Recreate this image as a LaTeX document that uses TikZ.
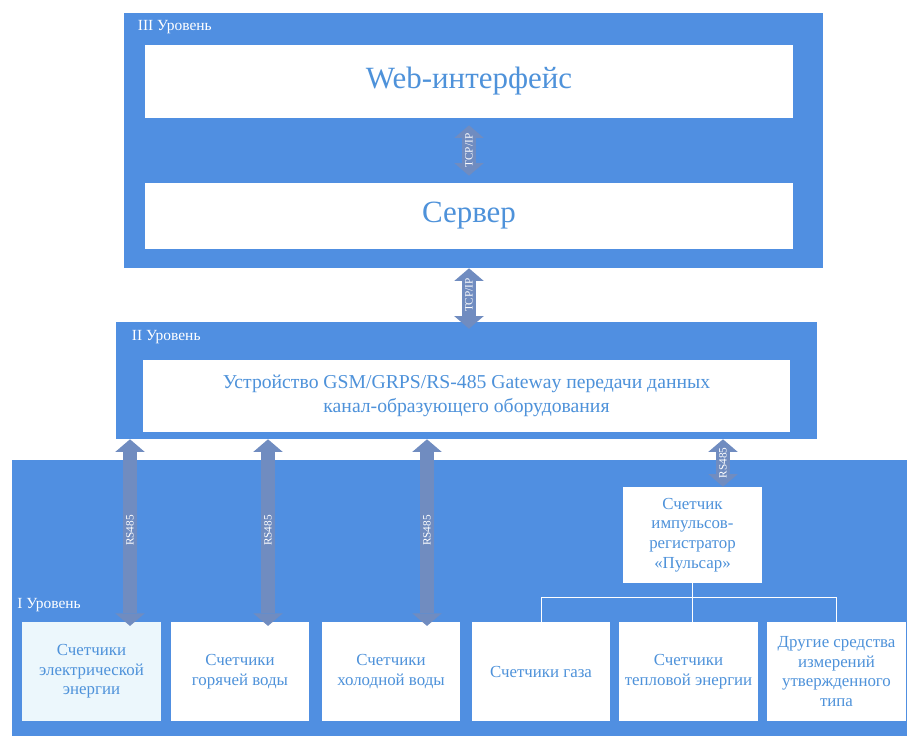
\documentclass[tikz,border=0pt]{standalone}
\usepackage{fontspec}
\setmainfont{Liberation Serif}
\usetikzlibrary{arrows.meta,calc}
\definecolor{panelblue}{RGB}{80,143,225}
\definecolor{textblue}{RGB}{78,146,218}
\definecolor{busblue}{RGB}{112,140,192}
\definecolor{paleblue}{RGB}{236,247,252}

\begin{document}
\begin{tikzpicture}
      [x = 0.025cm, y = -0.025cm,
      panel/.style = {
         fill = panelblue,
         inner sep = 0pt
      },
      box/.style = {
         fill = white,
         text = textblue,
         inner sep = 2pt,
         align = center
      },
      meter/.style = {
         box,
         minimum width = 3.45cm,
         minimum height = 2.475cm,
         font = \fontsize{12}{14}\selectfont
      },
      level/.style = {
         text = white,
         inner sep = 0pt,
         font = \fontsize{11}{13}\selectfont
      },
      bus/.style = {
         busblue,
         line width = 10.5pt,
         {Triangle[width = 21pt, length = 9pt, line width = 0pt]}-{Triangle[width = 21pt, length = 9pt, line width = 0pt]}
      },
      buslabel/.style = {
         text = white,
         rotate = 90,
         inner sep = 0pt,
         font = \fontsize{8}{8}\selectfont
      },
      tree/.style = {white, line width = 0.7pt}]

      \useasboundingbox (0, 0) rectangle (907, 736);

      % levels
      \node[panel, minimum width = 17.475cm, minimum height = 6.375cm] (lvlIII) at (473.5, 140.5) {};
      \node[panel, minimum width = 17.525cm, minimum height = 2.925cm] (lvlII) at (466.5, 380.5) {};
      \node[panel, minimum width = 22.375cm, minimum height = 6.9cm] (lvlI) at (459.5, 598) {};

      \node[level, anchor = north west] (nameIII) at ($(lvlIII.north west) + (14, 7)$) {III Уровень};
      \node[level, anchor = north west] (nameII) at ($(lvlII.north west) + (16, 8)$) {II Уровень};
      \node[level, anchor = south west] (nameI) at (17, 612) {I Уровень};

      % level III
      \node[box, minimum width = 16.2cm, minimum height = 1.825cm, font = \fontsize{22}{24}\selectfont] (web) at (469, 81.5) {Web-интерфейс};
      \node[box, minimum width = 16.2cm, minimum height = 1.65cm, font = \fontsize{22}{24}\selectfont] (server) at (469, 216) {Сервер};

      % level II
      \node[box, minimum width = 16.175cm, minimum height = 1.8cm, font = \fontsize{14}{17}\selectfont] (gate) at (466.5, 396)
         {Устройство GSM/GRPS/RS-485 Gateway передачи данных\\канал-образующего оборудования};

      % level I
      \node[meter, minimum width = 3.475cm, minimum height = 2.4cm] (pulsar) at (692.5, 535)
         {Счетчик\\импульсов-\\регистратор\\«Пульсар»};
      \node[meter, fill = paleblue] (elec) at (91.5, 671.5) {Счетчики\\электрической\\энергии};
      \node[meter] (hot) at (240, 671.5) {Счетчики\\горячей воды};
      \node[meter] (cold) at (391, 671.5) {Счетчики\\холодной воды};
      \node[meter] (gas) at (541, 671.5) {Счетчики газа};
      \node[meter] (heat) at (688.5, 671.5) {Счетчики\\тепловой энергии};
      \node[meter] (other) at (836.5, 671.5) {Другие средства\\измерений\\утвержденного\\типа};

      \coordinate (split) at ($(pulsar.south) + (0, 14)$);
      \draw[tree] (pulsar.south) -- (pulsar.south |- heat.north);
      \draw[tree] (gas.north) |- (split) -| (other.north);

      % links
      \draw[bus, shorten <= 5pt, shorten >= 5pt] (server.north) -- (web.south)
         node[midway, buslabel] {TCP/IP};
      \draw[bus, shorten <= -5pt] (lvlII.north -| server.south) -- (lvlIII.south -| server.south)
         node[midway, buslabel] {TCP/IP};

      \foreach \meter/\xpos in {elec/130, hot/268, cold/427}
         \draw[bus, shorten <= -3pt] (\meter.north -| \xpos, 0) -- (lvlII.south -| \xpos, 0)
            node[midway, buslabel] {RS485};
      \draw[bus] (pulsar.north -| 723, 0) -- (lvlII.south -| 723, 0)
         node[midway, buslabel] {RS485};

   \end{tikzpicture}
\end{document}
